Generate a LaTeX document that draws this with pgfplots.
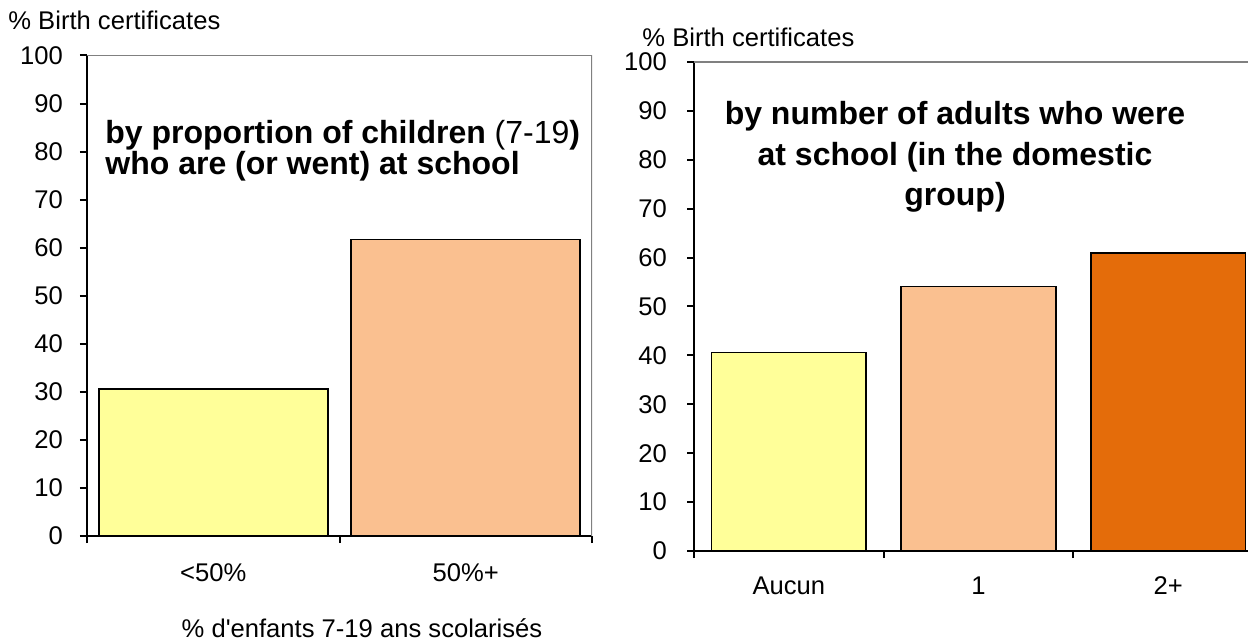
\documentclass[border=0pt]{standalone}
\usepackage{fontspec}
\setmainfont{Liberation Sans}
\usepackage{pgfplots}
\pgfplotsset{compat=1.18}

\definecolor{cyellow}{HTML}{FFFF99}
\definecolor{cpeach}{HTML}{FAC090}
\definecolor{corange}{HTML}{E46C0A}

\pgfplotsset{
  panel/.style={
    scale only axis,
    ybar,
    axis x line*=bottom,
    axis y line*=left,
    axis line style={line width=1pt, -},
    ymin=0, ymax=100,
    ytick={0,10,...,100},
    tick align=outside,
    major tick length=3.5pt,
    tick style={line width=1pt, black},
    ticklabel style={font=\fontsize{12.8}{14}\selectfont},
    /pgf/number format/assume math mode=true,
    yticklabel style={xshift=-5pt},
    xticklabels={},
    extra x tick style={major tick length=0pt},
  },
}

\begin{document}
\begin{tikzpicture}
\useasboundingbox (0,0) rectangle (624pt,321.5pt);

% left panel
\begin{axis}[panel,
  at={(43.5pt,53.5pt)}, anchor=south west,
  width=252.5pt, height=240.25pt,
  xmin=-0.5, xmax=1.5,
  xtick={-0.5,0.5,1.5},
  extra x ticks={0,1},
  extra x tick labels={<50\%,50\%+},
  extra x tick style={tick label style={yshift=-10.5pt}},
  bar width=0.907,
]
\addplot[fill=cyellow, draw=black, line width=0.8pt, bar shift=0pt] coordinates {(0,30.6)};
\addplot[fill=cpeach, draw=black, line width=0.8pt, bar shift=0pt] coordinates {(1,61.7)};
\draw[gray, line width=0.6pt] (rel axis cs:0,1) -- (rel axis cs:1,1) -- (rel axis cs:1,0);
\end{axis}

% right panel
\begin{axis}[panel,
  at={(347pt,46pt)}, anchor=south west,
  width=277pt, height=244.5pt,
  xmin=-0.5, xmax=2.42,
  xtick={-0.5,0.5,1.5},
  extra x ticks={0,1,2},
  extra x tick labels={Aucun,1,2+},
  extra x tick style={tick label style={yshift=-9.5pt}},
  yticklabel style={xshift=-1.5pt},
  bar width=0.815,
]
\addplot[fill=cyellow, draw=black, line width=0.8pt, bar shift=0pt] coordinates {(0,40.6)};
\addplot[fill=cpeach, draw=black, line width=0.8pt, bar shift=0pt] coordinates {(1,54.1)};
\addplot[fill=corange, draw=black, line width=0.8pt, bar shift=0pt] coordinates {(2,61.0)};
\draw[gray, line width=0.6pt] (rel axis cs:0,1) -- (rel axis cs:1,1);
\end{axis}

% axis titles and headings
\node[anchor=base west, inner sep=0pt, font=\fontsize{12.8}{14}\selectfont] at (4pt,306.9pt) {\% Birth certificates};
\node[anchor=base west, inner sep=0pt, font=\fontsize{12.8}{14}\selectfont] at (321pt,298.4pt) {\% Birth certificates};
\node[anchor=base, inner sep=0pt, font=\fontsize{12.8}{14}\selectfont] at (181pt,3pt) {\% d\textquotesingle enfants 7-19 ans scolarisés};

\node[anchor=base west, inner sep=0pt, font=\fontsize{16}{18}\selectfont] at (52.5pt,249.8pt)
  {\textbf{by proportion of children} (7-19\textbf{)}};
\node[anchor=base west, inner sep=0pt, font=\fontsize{16}{18}\bfseries] at (52.5pt,234.3pt)
  {who are (or went) at school};

\node[anchor=base, inner sep=0pt, font=\fontsize{16}{18}\bfseries] at (477.5pt,259.3pt) {by number of adults who were};
\node[anchor=base, inner sep=0pt, font=\fontsize{16}{18}\bfseries] at (477.5pt,238.8pt) {at school (in the domestic};
\node[anchor=base, inner sep=0pt, font=\fontsize{16}{18}\bfseries] at (477.5pt,218.8pt) {group)};
\end{tikzpicture}
\end{document}
